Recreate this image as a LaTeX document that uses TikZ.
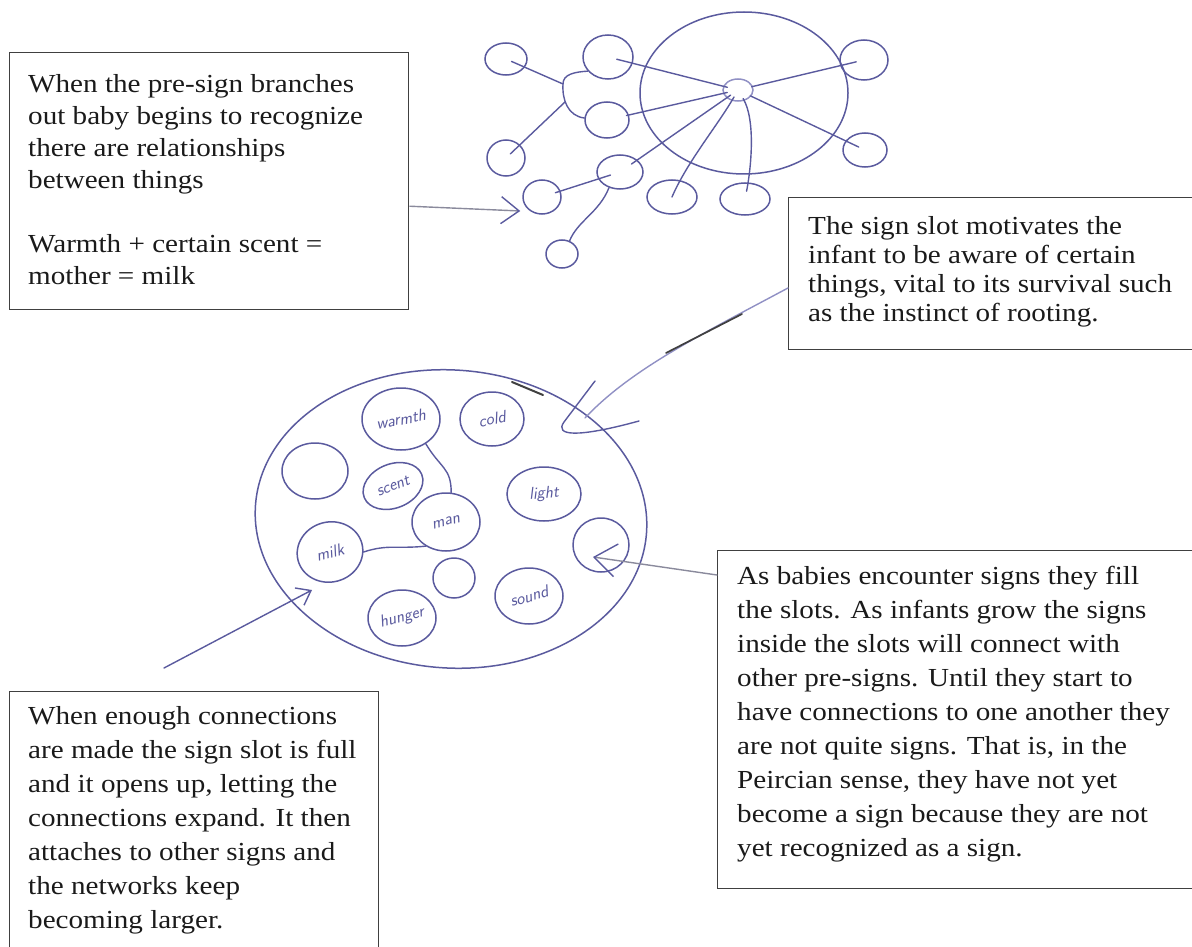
\documentclass[tikz,border=0pt]{standalone}
\usepackage{fontspec}
\setmainfont{Liberation Serif}[FakeStretch=1.12]
\usetikzlibrary{shapes.geometric,arrows.meta,calc}
\definecolor{ink}{HTML}{5A5A9E}
\definecolor{inklt}{HTML}{9090C4}
\definecolor{grayln}{HTML}{8A8A9C}
\definecolor{boxc}{HTML}{404040}
\definecolor{txt}{HTML}{1A1A1A}
\begin{document}
\begin{tikzpicture}[x=1pt,y=-1pt,
  frame/.style={rectangle, draw=boxc, line width=1.4pt, anchor=north west, inner sep=0pt},
  para/.style={anchor=north west, inner sep=0pt, align=left, text=txt},
  blob/.style={ellipse, draw=ink, line width=1.5pt, inner sep=0pt},
  sk/.style={draw=ink, line width=1.4pt, line cap=round},
  lab/.style={text=ink, inner sep=0pt, font=\sffamily\itshape\fontsize{17}{17}\selectfont},
  barb/.style={-{Straight Barb[length=#1, width=1.5*#1, line width=1.4pt, color=ink]}}
]
\useasboundingbox (0,0) rectangle (1192,947);
\clip (0,0) rectangle (1192,947);

% ---------- text boxes ----------
\node[frame, minimum width=399pt, minimum height=257pt] (box1) at (9,52) {};
\node[frame, minimum width=412pt, minimum height=152pt] (box2) at (788,197) {};
\node[frame, minimum width=490pt, minimum height=338pt] (box3) at (717,550) {};
\node[frame, minimum width=369pt, minimum height=290pt] (box4) at (9,691) {};

\node[para, font=\fontsize{26}{32}\selectfont] (t1) at (28,74)
 {When the pre-sign branches\\out baby begins to recognize\\there are relationships\\between things\\[32pt]Warmth + certain scent =\\mother = milk};
\node[para, font=\fontsize{26}{29}\selectfont] (t2) at (808,216)
 {The sign slot motivates the\\infant to be aware of certain\\things, vital to its survival such\\as the instinct of rooting.};
\node[para, font=\fontsize{26}{34}\selectfont] (t3) at (737,566)
 {As babies encounter signs they fill\\the slots. As infants grow the signs\\inside the slots will connect with\\other pre-signs. Until they start to\\have connections to one another they\\are not quite signs. That is, in the\\Peircian sense, they have not yet\\become a sign because they are not\\yet recognized as a sign.};
\node[para, font=\fontsize{26}{34}\selectfont] (t4) at (28,706)
 {When enough connections\\are made the sign slot is full\\and it opens up, letting the\\connections expand. It then\\attaches to other signs and\\the networks keep\\becoming larger.};

% ---------- top sketch ----------
\node[blob, minimum width=208pt, minimum height=162pt] (T) at (744,93) {};
\node[blob, draw=inklt, minimum width=30pt, minimum height=22pt] (H) at (738,90) {};
\node[blob, minimum width=42pt, minimum height=32pt] (a) at (506,59) {};
\node[blob, minimum width=50pt, minimum height=44pt] (b) at (608,57) {};
\node[blob, minimum width=44pt, minimum height=36pt] (c) at (607,120) {};
\node[blob, minimum width=38pt, minimum height=36pt] (d) at (506,158) {};
\node[blob, minimum width=46pt, minimum height=34pt] (e) at (620,172) {};
\node[blob, minimum width=38pt, minimum height=34pt] (f) at (542,197) {};
\node[blob, minimum width=32pt, minimum height=28pt] (g) at (562,254) {};
\node[blob, minimum width=50pt, minimum height=34pt] (h) at (672,197) {};
\node[blob, minimum width=50pt, minimum height=32pt] (i) at (745,199) {};
\node[blob, minimum width=48pt, minimum height=40pt] (j) at (864,60) {};
\node[blob, minimum width=44pt, minimum height=34pt] (k) at (865,150) {};

\coordinate (J1) at (563,84);
\coordinate (J2) at (565,102);
\draw[sk] (b.215) .. controls (575,72) and (563,74) .. (J1)
          .. controls (562,100) and (568,116) .. (c.175);
\draw[sk, shorten <=6pt] (a.center) -- (J1);
\draw[sk, shorten >=6pt] (J2) -- (d.center);
\draw[sk, shorten <=9pt, shorten >=11pt] (b.center) -- (H.center);
\draw[sk, shorten <=20pt, shorten >=11pt] (c.center) -- (H.center);
\draw[sk, shorten <=14pt, shorten >=9pt] (e.center) -- (H.center);
\draw[sk, shorten <=14pt, shorten >=8pt] (H.center) -- (j.center);
\draw[sk, shorten <=14pt, shorten >=7pt] (H.center) -- (k.center);
\draw[sk, shorten <=8pt] (H.center) .. controls +(-20,35) and +(15,-35) .. (h.center);
\draw[sk, shorten <=10pt, shorten >=8pt] (H.center) .. controls +(18,30) and +(6,-30) .. (i.center);
\draw[sk, shorten <=10pt, shorten >=14pt] (e.center) -- (f.center);
\draw[sk] (e.235) .. controls +(-10,25) and +(8,-20) .. (g.60);

\draw[draw=grayln, line width=1.4pt, barb=18pt] ([yshift=-25pt]box1.east) -- ([shift={(-2,14)}]f.west);

% ---------- lower sketch ----------
\node[blob, minimum width=392pt, minimum height=298pt, rotate=-4] (L) at (451,519) {};
\node[blob, minimum width=78pt, minimum height=62pt] (W) at (401,419) {};
\node[blob, minimum width=64pt, minimum height=54pt] (C) at (492,419) {};
\node[blob, minimum width=66pt, minimum height=56pt] (E1) at (315,471) {};
\node[blob, minimum width=62pt, minimum height=44pt, rotate=22] (S) at (393,486) {};
\node[blob, minimum width=74pt, minimum height=54pt] (Li) at (544,494) {};
\node[blob, minimum width=68pt, minimum height=58pt] (M) at (446,522) {};
\node[blob, minimum width=66pt, minimum height=60pt, rotate=15] (Mi) at (330,552) {};
\node[blob, minimum width=56pt, minimum height=54pt] (E2) at (601,545) {};
\node[blob, minimum width=42pt, minimum height=40pt] (E3) at (454,578) {};
\node[blob, minimum width=68pt, minimum height=56pt] (Hu) at (402,618) {};
\node[blob, minimum width=68pt, minimum height=56pt] (So) at (529,596) {};

\node[lab, rotate=10] (lW) at (W.center) {warmth};
\node[lab, rotate=10] (lC) at (C.center) {cold};
\node[lab, rotate=22] (lS) at (S.center) {scent};
\node[lab, rotate=5] (lLi) at (Li.center) {light};
\node[lab, rotate=15] (lM) at (M.center) {man};
\node[lab, rotate=15] (lMi) at (Mi.center) {milk};
\node[lab, rotate=15] (lHu) at (Hu.center) {hunger};
\node[lab, rotate=15] (lSo) at (So.center) {sound};

\draw[sk] (W.315) .. controls +(15,25) and +(0,-25) .. (M.80);
\draw[sk] (M.230) .. controls +(-30,3) and +(25,-8) .. (Mi.345);

% arrow from lower-left box to milk
\coordinate (q4) at (164,668);
\draw[sk, barb=13pt] (q4) -- ([shift={(-18,38)}]Mi.center);

% arrow from lower-right box to empty slot
\draw[sk, draw=grayln, barb=22pt] ([yshift=-25pt]box3.north west) -- ([shift={(-8,12)}]E2.center);

% arrow from sign-slot box with hook head
\coordinate (tipc) at ($(L.center)+(134,-101)$);
\draw[draw=inklt, line width=1.4pt, line cap=round] ([yshift=-91pt]box2.north west) .. controls (700,335) and (630,370) .. (tipc);
\draw[draw=black!75, line width=1.7pt, line cap=round] (742,314) -- (666,353);
\draw[sk] ($(tipc)+(10,-37)$) -- ($(tipc)+(-21,4)$) .. controls ($(tipc)+(-31,18)$) and ($(tipc)+(-8,20)$) .. ($(tipc)+(54,3)$);
\draw[draw=black!75, line width=2pt, line cap=round] (512,382) -- (543,395);
\end{tikzpicture}
\end{document}
